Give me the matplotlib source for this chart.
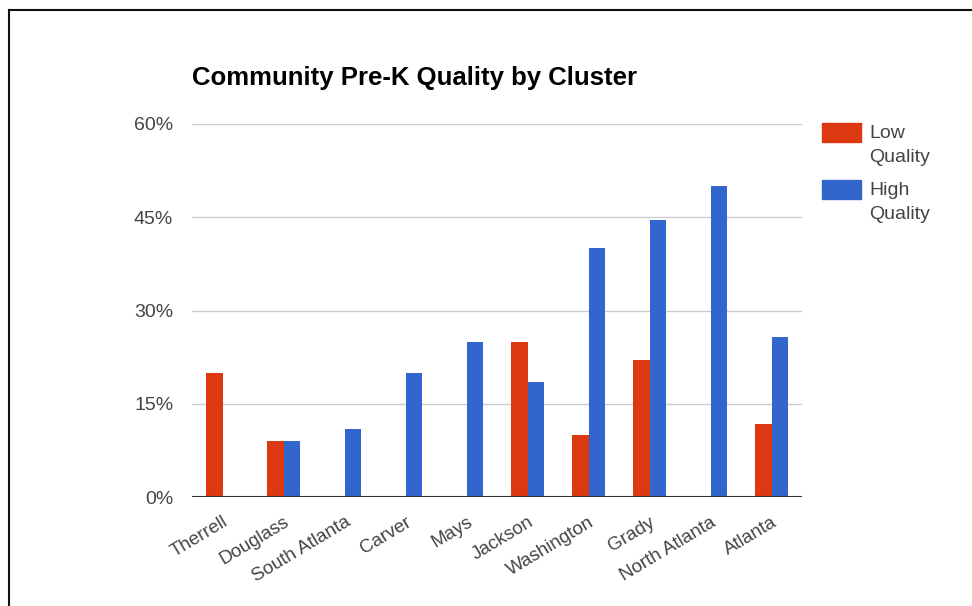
import numpy as np
import matplotlib
matplotlib.use('Agg')
import matplotlib.pyplot as plt
from matplotlib.patches import Rectangle
from matplotlib.lines import Line2D
from matplotlib.ticker import FuncFormatter

plt.rcParams['font.family'] = ['Liberation Sans', 'DejaVu Sans']

clusters = ['Therrell', 'Douglass', 'South Atlanta', 'Carver', 'Mays',
            'Jackson', 'Washington', 'Grady', 'North Atlanta', 'Atlanta']
low_quality = [20, 9, 0, 0, 0, 25, 10, 22, 0, 11.7]
high_quality = [0, 9, 11, 20, 25, 18.5, 40, 44.5, 50, 25.7]
series_names = ['Low\nQuality', 'High\nQuality']
colors = ['#dc3912', '#3366cc']
y_ticks = [0, 15, 30, 45, 60]

W, H = 972, 606
fig = plt.figure(figsize=(W / 100, H / 100), dpi=100)
fig.patch.set_facecolor('white')

ax = fig.add_axes([192 / W, 1 - 497 / H, 610 / W, (497 - 124) / H])

x = np.arange(len(clusters))
bw = 0.27
ax.bar(x - bw / 2, low_quality, width=bw, color=colors[0], zorder=3)
ax.bar(x + bw / 2, high_quality, width=bw, color=colors[1], zorder=3)

ax.set_xlim(-0.5, len(clusters) - 0.5)
ax.set_ylim(0, 60)
ax.set_yticks(y_ticks)
ax.yaxis.set_major_formatter(FuncFormatter(lambda v, _: f'{v:.0f}%'))
ax.grid(axis='y', color='#cccccc', linewidth=1, zorder=0)
ax.axhline(0, color='#333333', linewidth=1.5, zorder=4)

for side in ['top', 'right', 'left', 'bottom']:
    ax.spines[side].set_visible(False)
ax.tick_params(axis='both', length=0, colors='#444444')
ax.tick_params(axis='y', pad=13.5, labelsize=14)

ax.set_xticks(x)
ax.set_xticklabels(clusters, rotation=31, ha='right', va='top',
                   rotation_mode='anchor', fontsize=13.5)
ax.tick_params(axis='x', pad=12)

fig.text(192 / W, 1 - 78 / H, 'Community Pre-K Quality by Cluster',
         fontsize=18.5, fontweight='bold', color='#000000', va='center')

# legend drawn by hand so the swatch lines up with the first text line
for i, (name, c) in enumerate(zip(series_names, colors)):
    top = 123 + i * 57
    fig.add_artist(Rectangle((822 / W, 1 - (top + 19) / H), 39 / W, 19 / H,
                             transform=fig.transFigure, color=c))
    fig.text(869 / W, 1 - (top + 2) / H, name, fontsize=14, color='#444444',
             va='top', ha='left', linespacing=1.55)

# frame on the top and left edges
fig.add_artist(Line2D([9 / W, 9 / W], [0, 1 - 10 / H], transform=fig.transFigure,
                      color='#111111', linewidth=1.5))
fig.add_artist(Line2D([9 / W, 1], [1 - 10 / H, 1 - 10 / H], transform=fig.transFigure,
                      color='#111111', linewidth=1.5))

fig.savefig('out.png', dpi=100, facecolor='white')
